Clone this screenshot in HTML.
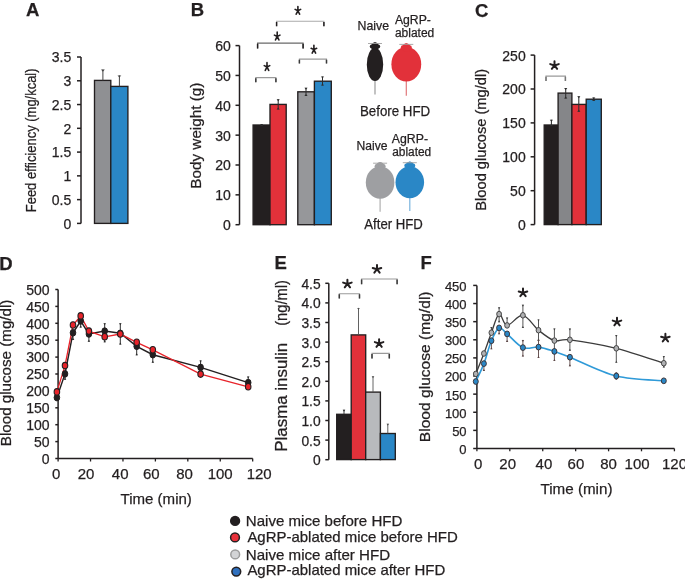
<!DOCTYPE html><html><head><meta charset="utf-8"><style>html,body{margin:0;padding:0;background:#fff;width:685px;height:579px;overflow:hidden}svg{display:block;filter:blur(0.35px)}text{stroke:#231f20;stroke-width:0.25px}</style></head><body><svg width="685" height="579" viewBox="0 0 685 579" font-family='"Liberation Sans", sans-serif'>
<rect width="685" height="579" fill="#ffffff"/>
<text x="26.0" y="16.3" font-size="18.5" text-anchor="start" font-weight="bold" fill="#231f20">A</text>
<line x1="81" y1="223.4" x2="81" y2="57.01000000000002" stroke="#231f20" stroke-width="1.5"/>
<line x1="77" y1="223.4" x2="81" y2="223.4" stroke="#231f20" stroke-width="1.5"/>
<text x="71.3" y="228.8" font-size="14" text-anchor="end" font-weight="normal" fill="#231f20">0</text>
<line x1="77" y1="199.63" x2="81" y2="199.63" stroke="#231f20" stroke-width="1.5"/>
<text x="71.3" y="205.03" font-size="14" text-anchor="end" font-weight="normal" fill="#231f20">0.5</text>
<line x1="77" y1="175.86" x2="81" y2="175.86" stroke="#231f20" stroke-width="1.5"/>
<text x="71.3" y="181.26" font-size="14" text-anchor="end" font-weight="normal" fill="#231f20">1</text>
<line x1="77" y1="152.09" x2="81" y2="152.09" stroke="#231f20" stroke-width="1.5"/>
<text x="71.3" y="157.49" font-size="14" text-anchor="end" font-weight="normal" fill="#231f20">1.5</text>
<line x1="77" y1="128.32" x2="81" y2="128.32" stroke="#231f20" stroke-width="1.5"/>
<text x="71.3" y="133.72" font-size="14" text-anchor="end" font-weight="normal" fill="#231f20">2</text>
<line x1="77" y1="104.55000000000001" x2="81" y2="104.55000000000001" stroke="#231f20" stroke-width="1.5"/>
<text x="71.3" y="109.95" font-size="14" text-anchor="end" font-weight="normal" fill="#231f20">2.5</text>
<line x1="77" y1="80.78" x2="81" y2="80.78" stroke="#231f20" stroke-width="1.5"/>
<text x="71.3" y="86.18" font-size="14" text-anchor="end" font-weight="normal" fill="#231f20">3</text>
<line x1="77" y1="57.01000000000002" x2="81" y2="57.01000000000002" stroke="#231f20" stroke-width="1.5"/>
<text x="71.3" y="62.41" font-size="14" text-anchor="end" font-weight="normal" fill="#231f20">3.5</text>
<text transform="translate(36.1,212.24) rotate(-90)" x="0" y="0" font-size="14.5" fill="#231f20" textLength="143.8" lengthAdjust="spacingAndGlyphs">Feed efficiency (mg/kcal)</text>
<rect x="94.5" y="80.4" width="16.299999999999997" height="143.0" fill="#8f9093" stroke="#231f20" stroke-width="1.35"/>
<rect x="110.8" y="86.4" width="17.10000000000001" height="137.0" fill="#2a87c6" stroke="#231f20" stroke-width="1.35"/>
<line x1="102.9" y1="69.6" x2="102.9" y2="80.4" stroke="#444" stroke-width="1.0"/>
<path d="M101.00,69.60 H104.80 L102.90,71.70 Z" fill="#444"/>
<line x1="119.4" y1="75.4" x2="119.4" y2="86.4" stroke="#444" stroke-width="1.0"/>
<path d="M117.50,75.40 H121.30 L119.40,77.50 Z" fill="#444"/>
<text x="190.8" y="16.3" font-size="18.5" text-anchor="start" font-weight="bold" fill="#231f20">B</text>
<line x1="239.5" y1="224.7" x2="239.5" y2="45.599999999999966" stroke="#231f20" stroke-width="1.5"/>
<line x1="235.5" y1="224.7" x2="239.5" y2="224.7" stroke="#231f20" stroke-width="1.5"/>
<text x="230.8" y="230.1" font-size="14" text-anchor="end" font-weight="normal" fill="#231f20">0</text>
<line x1="235.5" y1="194.85" x2="239.5" y2="194.85" stroke="#231f20" stroke-width="1.5"/>
<text x="230.8" y="200.25" font-size="14" text-anchor="end" font-weight="normal" fill="#231f20">10</text>
<line x1="235.5" y1="165.0" x2="239.5" y2="165.0" stroke="#231f20" stroke-width="1.5"/>
<text x="230.8" y="170.4" font-size="14" text-anchor="end" font-weight="normal" fill="#231f20">20</text>
<line x1="235.5" y1="135.14999999999998" x2="239.5" y2="135.14999999999998" stroke="#231f20" stroke-width="1.5"/>
<text x="230.8" y="140.55" font-size="14" text-anchor="end" font-weight="normal" fill="#231f20">30</text>
<line x1="235.5" y1="105.29999999999998" x2="239.5" y2="105.29999999999998" stroke="#231f20" stroke-width="1.5"/>
<text x="230.8" y="110.7" font-size="14" text-anchor="end" font-weight="normal" fill="#231f20">40</text>
<line x1="235.5" y1="75.44999999999999" x2="239.5" y2="75.44999999999999" stroke="#231f20" stroke-width="1.5"/>
<text x="230.8" y="80.85" font-size="14" text-anchor="end" font-weight="normal" fill="#231f20">50</text>
<line x1="235.5" y1="45.599999999999966" x2="239.5" y2="45.599999999999966" stroke="#231f20" stroke-width="1.5"/>
<text x="230.8" y="51.0" font-size="14" text-anchor="end" font-weight="normal" fill="#231f20">60</text>
<text transform="translate(200.95,188.7) rotate(-90)" x="0" y="0" font-size="15" fill="#231f20" textLength="106.1" lengthAdjust="spacingAndGlyphs">Body weight (g)</text>
<rect x="253.1" y="125.0" width="16.900000000000006" height="99.69999999999999" fill="#231f20" stroke="#231f20" stroke-width="1.35"/>
<rect x="270.0" y="104.4" width="16.19999999999999" height="120.29999999999998" fill="#e2313a" stroke="#231f20" stroke-width="1.35"/>
<rect x="297.8" y="91.8" width="16.599999999999966" height="132.89999999999998" fill="#96979a" stroke="#231f20" stroke-width="1.35"/>
<rect x="314.4" y="81.2" width="16.900000000000034" height="143.5" fill="#2a87c6" stroke="#231f20" stroke-width="1.35"/>
<line x1="261.6" y1="123.9" x2="261.6" y2="125.9" stroke="#2e2e2e" stroke-width="1.05"/>
<path d="M260.10,123.90 H263.10 L261.60,125.90 Z" fill="#2e2e2e"/>
<path d="M260.10,125.90 H263.10 L261.60,123.90 Z" fill="#2e2e2e"/>
<line x1="278.2" y1="99.2" x2="278.2" y2="109.5" stroke="#2e2e2e" stroke-width="1.05"/>
<path d="M276.60,99.20 H279.80 L278.20,101.20 Z" fill="#2e2e2e"/>
<path d="M276.60,109.50 H279.80 L278.20,107.50 Z" fill="#2e2e2e"/>
<line x1="306.0" y1="87.8" x2="306.0" y2="96.0" stroke="#2e2e2e" stroke-width="1.05"/>
<path d="M304.40,87.80 H307.60 L306.00,89.80 Z" fill="#2e2e2e"/>
<path d="M304.40,96.00 H307.60 L306.00,94.00 Z" fill="#2e2e2e"/>
<line x1="322.5" y1="76.6" x2="322.5" y2="85.5" stroke="#2e2e2e" stroke-width="1.05"/>
<path d="M320.90,76.60 H324.10 L322.50,78.60 Z" fill="#2e2e2e"/>
<path d="M320.90,85.50 H324.10 L322.50,83.50 Z" fill="#2e2e2e"/>
<path d="M255.8,82.19999999999999 V77.6 H275.9 V82.19999999999999" fill="none" stroke="#9a9a9a" stroke-width="1.1"/>
<path d="M255.8,82.19999999999999 V78.19999999999999 M275.9,82.19999999999999 V78.19999999999999" fill="none" stroke="#3a3a3a" stroke-width="1.5"/>
<path d="M267.00,66.93 L267.00,62.63 M267.00,66.93 L269.75,65.60 M267.00,66.93 L268.71,70.41 M267.00,66.93 L265.29,70.41 M267.00,66.93 L264.25,65.60 " fill="none" stroke="#231f20" stroke-width="1.6" stroke-linecap="round"/>
<path d="M257.6,48.4 V43.1 H303.1 V48.4" fill="none" stroke="#6a6a6a" stroke-width="1.1"/>
<path d="M257.6,48.4 V43.7 M303.1,48.4 V43.7" fill="none" stroke="#231f20" stroke-width="1.5"/>
<path d="M277.20,36.43 L277.20,32.13 M277.20,36.43 L279.95,35.10 M277.20,36.43 L278.91,39.91 M277.20,36.43 L275.49,39.91 M277.20,36.43 L274.44,35.10 " fill="none" stroke="#231f20" stroke-width="1.6" stroke-linecap="round"/>
<path d="M299.4,63.5 V59.1 H326.5 V63.5" fill="none" stroke="#9a9a9a" stroke-width="1.1"/>
<path d="M299.4,63.5 V59.7 M326.5,63.5 V59.7" fill="none" stroke="#3a3a3a" stroke-width="1.5"/>
<path d="M313.90,49.63 L313.90,45.33 M313.90,49.63 L316.65,48.30 M313.90,49.63 L315.61,53.11 M313.90,49.63 L312.19,53.11 M313.90,49.63 L311.14,48.30 " fill="none" stroke="#231f20" stroke-width="1.6" stroke-linecap="round"/>
<path d="M276.6,26.3 V21.3 H323.9 V26.3" fill="none" stroke="#ababab" stroke-width="1.1"/>
<path d="M276.6,26.3 V21.900000000000002 M323.9,26.3 V21.900000000000002" fill="none" stroke="#231f20" stroke-width="1.5"/>
<path d="M297.90,10.73 L297.90,6.43 M297.90,10.73 L300.65,9.40 M297.90,10.73 L299.61,14.21 M297.90,10.73 L296.19,14.21 M297.90,10.73 L295.14,9.40 " fill="none" stroke="#231f20" stroke-width="1.6" stroke-linecap="round"/>
<line x1="375.0" y1="79.0" x2="375.0" y2="94.5" stroke="#9a9a9a" stroke-width="1.2"/>
<ellipse cx="375.0" cy="64.4" rx="8.2" ry="16.6" fill="#231f20"/>
<ellipse cx="375.0" cy="46.8" rx="3.7" ry="4.2" fill="#231f20"/>
<circle cx="371.90000000000003" cy="46.5" r="2.1" fill="#231f20"/>
<circle cx="378.09999999999997" cy="46.5" r="2.1" fill="#231f20"/>
<circle cx="375.0" cy="44.099999999999994" r="1.8" fill="#231f20"/>
<line x1="368.0" y1="43.5" x2="382.0" y2="43.5" stroke="#a0a0a0" stroke-width="0.9"/>
<line x1="406.3" y1="79.5" x2="406.3" y2="95.7" stroke="#e0787b" stroke-width="1.2"/>
<ellipse cx="406.3" cy="64.2" rx="14.9" ry="17.3" fill="#e2313a"/>
<ellipse cx="406.3" cy="47.7" rx="4.0" ry="4.2" fill="#e2313a"/>
<circle cx="402.90000000000003" cy="47.400000000000006" r="2.1" fill="#e2313a"/>
<circle cx="409.7" cy="47.400000000000006" r="2.1" fill="#e2313a"/>
<circle cx="406.3" cy="45.0" r="1.8" fill="#e2313a"/>
<line x1="399.3" y1="44.400000000000006" x2="413.3" y2="44.400000000000006" stroke="#a0a0a0" stroke-width="0.9"/>
<line x1="380.1" y1="196.8" x2="380.1" y2="211.7" stroke="#b0b0b0" stroke-width="1.2"/>
<ellipse cx="380.1" cy="182.5" rx="14.3" ry="16.30000000000001" fill="#9e9fa2"/>
<ellipse cx="380.1" cy="166.5" rx="4.0" ry="4.2" fill="#9e9fa2"/>
<circle cx="376.70000000000005" cy="166.2" r="2.1" fill="#9e9fa2"/>
<circle cx="383.5" cy="166.2" r="2.1" fill="#9e9fa2"/>
<circle cx="380.1" cy="163.8" r="1.8" fill="#9e9fa2"/>
<line x1="373.1" y1="163.2" x2="387.1" y2="163.2" stroke="#a0a0a0" stroke-width="0.9"/>
<line x1="409.8" y1="196.2" x2="409.8" y2="211.1" stroke="#79b3de" stroke-width="1.2"/>
<ellipse cx="409.8" cy="182.2" rx="14.3" ry="16.0" fill="#2a87c6"/>
<ellipse cx="409.8" cy="166.0" rx="4.0" ry="4.2" fill="#2a87c6"/>
<circle cx="406.40000000000003" cy="165.7" r="2.1" fill="#2a87c6"/>
<circle cx="413.2" cy="165.7" r="2.1" fill="#2a87c6"/>
<circle cx="409.8" cy="163.3" r="1.8" fill="#2a87c6"/>
<line x1="402.8" y1="162.7" x2="416.8" y2="162.7" stroke="#a0a0a0" stroke-width="0.9"/>
<text x="357.6" y="30.0" font-size="12.8" text-anchor="start" font-weight="normal" fill="#231f20" textLength="31.5" lengthAdjust="spacingAndGlyphs">Naive</text>
<text x="394.9" y="23.7" font-size="12.5" text-anchor="start" font-weight="normal" fill="#231f20" textLength="36.0" lengthAdjust="spacingAndGlyphs">AgRP-</text>
<text x="394.9" y="36.6" font-size="12.5" text-anchor="start" font-weight="normal" fill="#231f20" textLength="39.4" lengthAdjust="spacingAndGlyphs">ablated</text>
<text x="359.9" y="115.6" font-size="14" text-anchor="start" font-weight="normal" fill="#231f20" textLength="70.3" lengthAdjust="spacingAndGlyphs">Before HFD</text>
<text x="356.6" y="150.0" font-size="12.5" text-anchor="start" font-weight="normal" fill="#231f20" textLength="31.0" lengthAdjust="spacingAndGlyphs">Naive</text>
<text x="391.8" y="142.8" font-size="12.3" text-anchor="start" font-weight="normal" fill="#231f20" textLength="36.2" lengthAdjust="spacingAndGlyphs">AgRP-</text>
<text x="392.2" y="156.3" font-size="12.3" text-anchor="start" font-weight="normal" fill="#231f20" textLength="39.0" lengthAdjust="spacingAndGlyphs">ablated</text>
<text x="364.3" y="228.7" font-size="14" text-anchor="start" font-weight="normal" fill="#231f20" textLength="58.5" lengthAdjust="spacingAndGlyphs">After HFD</text>
<text x="475.0" y="17.0" font-size="18.5" text-anchor="start" font-weight="bold" fill="#231f20">C</text>
<line x1="534.6" y1="224.6" x2="534.6" y2="55.099999999999994" stroke="#231f20" stroke-width="1.5"/>
<line x1="530.6" y1="224.6" x2="534.6" y2="224.6" stroke="#231f20" stroke-width="1.5"/>
<text x="525.7" y="230.0" font-size="14" text-anchor="end" font-weight="normal" fill="#231f20">0</text>
<line x1="530.6" y1="190.7" x2="534.6" y2="190.7" stroke="#231f20" stroke-width="1.5"/>
<text x="525.7" y="196.1" font-size="14" text-anchor="end" font-weight="normal" fill="#231f20">50</text>
<line x1="530.6" y1="156.8" x2="534.6" y2="156.8" stroke="#231f20" stroke-width="1.5"/>
<text x="525.7" y="162.2" font-size="14" text-anchor="end" font-weight="normal" fill="#231f20">100</text>
<line x1="530.6" y1="122.9" x2="534.6" y2="122.9" stroke="#231f20" stroke-width="1.5"/>
<text x="525.7" y="128.3" font-size="14" text-anchor="end" font-weight="normal" fill="#231f20">150</text>
<line x1="530.6" y1="89.0" x2="534.6" y2="89.0" stroke="#231f20" stroke-width="1.5"/>
<text x="525.7" y="94.4" font-size="14" text-anchor="end" font-weight="normal" fill="#231f20">200</text>
<line x1="530.6" y1="55.099999999999994" x2="534.6" y2="55.099999999999994" stroke="#231f20" stroke-width="1.5"/>
<text x="525.7" y="60.5" font-size="14" text-anchor="end" font-weight="normal" fill="#231f20">250</text>
<text transform="translate(485.7,210.7) rotate(-90)" x="0" y="0" font-size="14.5" fill="#231f20" textLength="141.8" lengthAdjust="spacingAndGlyphs">Blood glucose (mg/dl)</text>
<rect x="544.2" y="125.0" width="13.899999999999977" height="99.6" fill="#231f20" stroke="#231f20" stroke-width="1.35"/>
<rect x="558.1" y="93.1" width="13.799999999999955" height="131.5" fill="#858689" stroke="#231f20" stroke-width="1.35"/>
<rect x="571.9" y="104.4" width="14.300000000000068" height="120.19999999999999" fill="#e2313a" stroke="#231f20" stroke-width="1.35"/>
<rect x="586.2" y="99.2" width="15.099999999999909" height="125.39999999999999" fill="#2a87c6" stroke="#231f20" stroke-width="1.35"/>
<line x1="551.4" y1="119.8" x2="551.4" y2="126" stroke="#2e2e2e" stroke-width="1.05"/>
<path d="M549.80,119.80 H553.00 L551.40,121.80 Z" fill="#2e2e2e"/>
<path d="M549.80,126.00 H553.00 L551.40,124.00 Z" fill="#2e2e2e"/>
<line x1="565.7" y1="88.0" x2="565.7" y2="98.6" stroke="#2e2e2e" stroke-width="1.05"/>
<path d="M564.10,88.00 H567.30 L565.70,90.00 Z" fill="#2e2e2e"/>
<path d="M564.10,98.60 H567.30 L565.70,96.60 Z" fill="#2e2e2e"/>
<line x1="578.8" y1="96.2" x2="578.8" y2="111.8" stroke="#2e2e2e" stroke-width="1.05"/>
<path d="M577.20,96.20 H580.40 L578.80,98.20 Z" fill="#2e2e2e"/>
<path d="M577.20,111.80 H580.40 L578.80,109.80 Z" fill="#2e2e2e"/>
<line x1="593.7" y1="97.4" x2="593.7" y2="101.0" stroke="#2e2e2e" stroke-width="1.05"/>
<path d="M592.10,97.40 H595.30 L593.70,99.40 Z" fill="#2e2e2e"/>
<path d="M592.10,101.00 H595.30 L593.70,99.00 Z" fill="#2e2e2e"/>
<path d="M546.0,81.0 V76.1 H565.4 V81.0" fill="none" stroke="#9a9a9a" stroke-width="1.1"/>
<path d="M546.0,81.0 V76.69999999999999 M565.4,81.0 V76.69999999999999" fill="none" stroke="#777" stroke-width="1.5"/>
<path d="M554.50,65.42 L554.50,61.22 M554.50,65.42 L558.77,64.12 M554.50,65.42 L557.15,68.82 M554.50,65.42 L551.85,68.82 M554.50,65.42 L550.23,64.12 " fill="none" stroke="#231f20" stroke-width="2.0" stroke-linecap="round"/>
<text x="-0.7" y="269.8" font-size="18.5" text-anchor="start" font-weight="bold" fill="#231f20">D</text>
<line x1="58.1" y1="458.5" x2="58.1" y2="289.5" stroke="#231f20" stroke-width="1.5"/>
<line x1="55.300000000000004" y1="458.5" x2="58.1" y2="458.5" stroke="#231f20" stroke-width="1.5"/>
<text x="49.6" y="463.7" font-size="14" text-anchor="end" font-weight="normal" fill="#231f20">0</text>
<line x1="55.300000000000004" y1="441.6" x2="58.1" y2="441.6" stroke="#231f20" stroke-width="1.5"/>
<text x="49.6" y="446.8" font-size="14" text-anchor="end" font-weight="normal" fill="#231f20">50</text>
<line x1="55.300000000000004" y1="424.7" x2="58.1" y2="424.7" stroke="#231f20" stroke-width="1.5"/>
<text x="49.6" y="429.9" font-size="14" text-anchor="end" font-weight="normal" fill="#231f20">100</text>
<line x1="55.300000000000004" y1="407.8" x2="58.1" y2="407.8" stroke="#231f20" stroke-width="1.5"/>
<text x="49.6" y="413.0" font-size="14" text-anchor="end" font-weight="normal" fill="#231f20">150</text>
<line x1="55.300000000000004" y1="390.9" x2="58.1" y2="390.9" stroke="#231f20" stroke-width="1.5"/>
<text x="49.6" y="396.1" font-size="14" text-anchor="end" font-weight="normal" fill="#231f20">200</text>
<line x1="55.300000000000004" y1="374.0" x2="58.1" y2="374.0" stroke="#231f20" stroke-width="1.5"/>
<text x="49.6" y="379.2" font-size="14" text-anchor="end" font-weight="normal" fill="#231f20">250</text>
<line x1="55.300000000000004" y1="357.1" x2="58.1" y2="357.1" stroke="#231f20" stroke-width="1.5"/>
<text x="49.6" y="362.3" font-size="14" text-anchor="end" font-weight="normal" fill="#231f20">300</text>
<line x1="55.300000000000004" y1="340.20000000000005" x2="58.1" y2="340.20000000000005" stroke="#231f20" stroke-width="1.5"/>
<text x="49.6" y="345.4" font-size="14" text-anchor="end" font-weight="normal" fill="#231f20">350</text>
<line x1="55.300000000000004" y1="323.3" x2="58.1" y2="323.3" stroke="#231f20" stroke-width="1.5"/>
<text x="49.6" y="328.5" font-size="14" text-anchor="end" font-weight="normal" fill="#231f20">400</text>
<line x1="55.300000000000004" y1="306.4" x2="58.1" y2="306.4" stroke="#231f20" stroke-width="1.5"/>
<text x="49.6" y="311.6" font-size="14" text-anchor="end" font-weight="normal" fill="#231f20">450</text>
<line x1="55.300000000000004" y1="289.5" x2="58.1" y2="289.5" stroke="#231f20" stroke-width="1.5"/>
<text x="49.6" y="294.7" font-size="14" text-anchor="end" font-weight="normal" fill="#231f20">500</text>
<line x1="58.1" y1="458.5" x2="252.7" y2="458.5" stroke="#231f20" stroke-width="1.3"/>
<line x1="58.1" y1="458.5" x2="58.1" y2="461.5" stroke="#231f20" stroke-width="1.3"/>
<line x1="90.53" y1="458.5" x2="90.53" y2="461.5" stroke="#231f20" stroke-width="1.3"/>
<line x1="122.96000000000001" y1="458.5" x2="122.96000000000001" y2="461.5" stroke="#231f20" stroke-width="1.3"/>
<line x1="155.39" y1="458.5" x2="155.39" y2="461.5" stroke="#231f20" stroke-width="1.3"/>
<line x1="187.82" y1="458.5" x2="187.82" y2="461.5" stroke="#231f20" stroke-width="1.3"/>
<line x1="220.25" y1="458.5" x2="220.25" y2="461.5" stroke="#231f20" stroke-width="1.3"/>
<line x1="252.67999999999998" y1="458.5" x2="252.67999999999998" y2="461.5" stroke="#231f20" stroke-width="1.3"/>
<text x="56.1" y="478.9" font-size="15" text-anchor="middle" font-weight="normal" fill="#231f20">0</text>
<text x="86.05" y="478.9" font-size="15" text-anchor="middle" font-weight="normal" fill="#231f20">20</text>
<text x="120.2" y="478.9" font-size="15" text-anchor="middle" font-weight="normal" fill="#231f20">40</text>
<text x="151.3" y="478.9" font-size="15" text-anchor="middle" font-weight="normal" fill="#231f20">60</text>
<text x="184.6" y="478.9" font-size="15" text-anchor="middle" font-weight="normal" fill="#231f20">80</text>
<text x="220.2" y="478.9" font-size="15" text-anchor="middle" font-weight="normal" fill="#231f20">100</text>
<text x="259.2" y="478.9" font-size="15" text-anchor="middle" font-weight="normal" fill="#231f20">120</text>
<text x="120.5" y="503.8" font-size="15.5" text-anchor="start" font-weight="normal" fill="#231f20" textLength="71.4" lengthAdjust="spacingAndGlyphs">Time (min)</text>
<text transform="translate(11.25,446.2) rotate(-90)" x="0" y="0" font-size="15" fill="#231f20" textLength="146.6" lengthAdjust="spacingAndGlyphs">Blood glucose (mg/dl)</text>
<line x1="65" y1="379.8" x2="65" y2="373.9" stroke="#2e2e2e" stroke-width="1.0"/>
<path d="M63.70,379.80 H66.30 L65.00,377.80 Z" fill="#2e2e2e"/>
<line x1="73" y1="340" x2="73" y2="332.8" stroke="#2e2e2e" stroke-width="1.0"/>
<path d="M71.70,340.00 H74.30 L73.00,338.00 Z" fill="#2e2e2e"/>
<line x1="80.7" y1="327.6" x2="80.7" y2="321" stroke="#2e2e2e" stroke-width="1.0"/>
<path d="M79.40,327.60 H82.00 L80.70,325.60 Z" fill="#2e2e2e"/>
<line x1="88.9" y1="341.8" x2="88.9" y2="334" stroke="#2e2e2e" stroke-width="1.0"/>
<path d="M87.60,341.80 H90.20 L88.90,339.80 Z" fill="#2e2e2e"/>
<line x1="104.7" y1="323.3" x2="104.7" y2="331.1" stroke="#2e2e2e" stroke-width="1.0"/>
<path d="M103.40,323.30 H106.00 L104.70,325.30 Z" fill="#2e2e2e"/>
<line x1="104.7" y1="342.3" x2="104.7" y2="331.1" stroke="#2e2e2e" stroke-width="1.0"/>
<path d="M103.40,342.30 H106.00 L104.70,340.30 Z" fill="#2e2e2e"/>
<line x1="120.3" y1="323.3" x2="120.3" y2="333.3" stroke="#2e2e2e" stroke-width="1.0"/>
<path d="M119.00,323.30 H121.60 L120.30,325.30 Z" fill="#2e2e2e"/>
<line x1="120.3" y1="344.6" x2="120.3" y2="333.3" stroke="#2e2e2e" stroke-width="1.0"/>
<path d="M119.00,344.60 H121.60 L120.30,342.60 Z" fill="#2e2e2e"/>
<line x1="136.7" y1="355.3" x2="136.7" y2="346.3" stroke="#2e2e2e" stroke-width="1.0"/>
<path d="M135.40,355.30 H138.00 L136.70,353.30 Z" fill="#2e2e2e"/>
<line x1="152.8" y1="362.7" x2="152.8" y2="354.7" stroke="#2e2e2e" stroke-width="1.0"/>
<path d="M151.50,362.70 H154.10 L152.80,360.70 Z" fill="#2e2e2e"/>
<line x1="200.6" y1="360.4" x2="200.6" y2="367.4" stroke="#2e2e2e" stroke-width="1.0"/>
<path d="M199.30,360.40 H201.90 L200.60,362.40 Z" fill="#2e2e2e"/>
<line x1="248.2" y1="376.6" x2="248.2" y2="382.6" stroke="#2e2e2e" stroke-width="1.0"/>
<path d="M246.90,376.60 H249.50 L248.20,378.60 Z" fill="#2e2e2e"/>
<polyline points="56.9,397.6 65,373.9 73,332.8 80.7,321 88.9,334 104.7,331.1 120.3,333.3 136.7,346.3 152.8,354.7 200.6,367.4 248.2,382.6" fill="none" stroke="#231f20" stroke-width="1.45"/>
<polyline points="56.9,391.9 65,365.6 73,325 80.7,315.9 88.9,331.1 104.7,336.8 120.3,334 136.7,342.3 152.8,349.8 200.6,374.1 248.2,386.8" fill="none" stroke="#e8232a" stroke-width="1.3"/>
<ellipse cx="56.9" cy="397.6" rx="2.8" ry="3.3" fill="#231f20" stroke="#231f20" stroke-width="1.0"/>
<ellipse cx="65" cy="373.9" rx="2.8" ry="3.3" fill="#231f20" stroke="#231f20" stroke-width="1.0"/>
<ellipse cx="73" cy="332.8" rx="2.8" ry="3.3" fill="#231f20" stroke="#231f20" stroke-width="1.0"/>
<ellipse cx="80.7" cy="321" rx="2.8" ry="3.3" fill="#231f20" stroke="#231f20" stroke-width="1.0"/>
<ellipse cx="88.9" cy="334" rx="2.8" ry="3.3" fill="#231f20" stroke="#231f20" stroke-width="1.0"/>
<ellipse cx="104.7" cy="331.1" rx="2.8" ry="3.3" fill="#231f20" stroke="#231f20" stroke-width="1.0"/>
<ellipse cx="120.3" cy="333.3" rx="2.8" ry="3.3" fill="#231f20" stroke="#231f20" stroke-width="1.0"/>
<ellipse cx="136.7" cy="346.3" rx="2.8" ry="3.3" fill="#231f20" stroke="#231f20" stroke-width="1.0"/>
<ellipse cx="152.8" cy="354.7" rx="2.8" ry="3.3" fill="#231f20" stroke="#231f20" stroke-width="1.0"/>
<ellipse cx="200.6" cy="367.4" rx="2.8" ry="3.3" fill="#231f20" stroke="#231f20" stroke-width="1.0"/>
<ellipse cx="248.2" cy="382.6" rx="2.8" ry="3.3" fill="#231f20" stroke="#231f20" stroke-width="1.0"/>
<ellipse cx="56.9" cy="391.9" rx="2.75" ry="3.25" fill="#e8232a" stroke="#231f20" stroke-width="1.1"/>
<ellipse cx="65" cy="365.6" rx="2.75" ry="3.25" fill="#e8232a" stroke="#231f20" stroke-width="1.1"/>
<ellipse cx="73" cy="325" rx="2.75" ry="3.25" fill="#e8232a" stroke="#231f20" stroke-width="1.1"/>
<ellipse cx="80.7" cy="315.9" rx="2.75" ry="3.25" fill="#e8232a" stroke="#231f20" stroke-width="1.1"/>
<ellipse cx="88.9" cy="331.1" rx="2.75" ry="3.25" fill="#e8232a" stroke="#231f20" stroke-width="1.1"/>
<ellipse cx="104.7" cy="336.8" rx="2.75" ry="3.25" fill="#e8232a" stroke="#231f20" stroke-width="1.1"/>
<ellipse cx="120.3" cy="334" rx="2.75" ry="3.25" fill="#e8232a" stroke="#231f20" stroke-width="1.1"/>
<ellipse cx="136.7" cy="342.3" rx="2.75" ry="3.25" fill="#e8232a" stroke="#231f20" stroke-width="1.1"/>
<ellipse cx="152.8" cy="349.8" rx="2.75" ry="3.25" fill="#e8232a" stroke="#231f20" stroke-width="1.1"/>
<ellipse cx="200.6" cy="374.1" rx="2.75" ry="3.25" fill="#e8232a" stroke="#231f20" stroke-width="1.1"/>
<ellipse cx="248.2" cy="386.8" rx="2.75" ry="3.25" fill="#e8232a" stroke="#231f20" stroke-width="1.1"/>
<text x="274.5" y="269.1" font-size="18.5" text-anchor="start" font-weight="bold" fill="#231f20">E</text>
<line x1="328.8" y1="459.7" x2="328.8" y2="283.29999999999995" stroke="#231f20" stroke-width="1.5"/>
<line x1="325.3" y1="459.7" x2="328.8" y2="459.7" stroke="#231f20" stroke-width="1.5"/>
<text x="320.6" y="465.1" font-size="13.8" text-anchor="end" font-weight="normal" fill="#231f20">0</text>
<line x1="325.3" y1="440.09999999999997" x2="328.8" y2="440.09999999999997" stroke="#231f20" stroke-width="1.5"/>
<text x="320.6" y="445.5" font-size="13.8" text-anchor="end" font-weight="normal" fill="#231f20">0.5</text>
<line x1="325.3" y1="420.5" x2="328.8" y2="420.5" stroke="#231f20" stroke-width="1.5"/>
<text x="320.6" y="425.9" font-size="13.8" text-anchor="end" font-weight="normal" fill="#231f20">1.0</text>
<line x1="325.3" y1="400.9" x2="328.8" y2="400.9" stroke="#231f20" stroke-width="1.5"/>
<text x="320.6" y="406.3" font-size="13.8" text-anchor="end" font-weight="normal" fill="#231f20">1.5</text>
<line x1="325.3" y1="381.29999999999995" x2="328.8" y2="381.29999999999995" stroke="#231f20" stroke-width="1.5"/>
<text x="320.6" y="386.7" font-size="13.8" text-anchor="end" font-weight="normal" fill="#231f20">2.0</text>
<line x1="325.3" y1="361.7" x2="328.8" y2="361.7" stroke="#231f20" stroke-width="1.5"/>
<text x="320.6" y="367.1" font-size="13.8" text-anchor="end" font-weight="normal" fill="#231f20">2.5</text>
<line x1="325.3" y1="342.09999999999997" x2="328.8" y2="342.09999999999997" stroke="#231f20" stroke-width="1.5"/>
<text x="320.6" y="347.5" font-size="13.8" text-anchor="end" font-weight="normal" fill="#231f20">3.0</text>
<line x1="325.3" y1="322.5" x2="328.8" y2="322.5" stroke="#231f20" stroke-width="1.5"/>
<text x="320.6" y="327.9" font-size="13.8" text-anchor="end" font-weight="normal" fill="#231f20">3.5</text>
<line x1="325.3" y1="302.9" x2="328.8" y2="302.9" stroke="#231f20" stroke-width="1.5"/>
<text x="320.6" y="308.3" font-size="13.8" text-anchor="end" font-weight="normal" fill="#231f20">4.0</text>
<line x1="325.3" y1="283.29999999999995" x2="328.8" y2="283.29999999999995" stroke="#231f20" stroke-width="1.5"/>
<text x="320.6" y="288.7" font-size="13.8" text-anchor="end" font-weight="normal" fill="#231f20">4.5</text>
<text transform="translate(286.8,451.75) rotate(-90)" font-size="16" fill="#231f20"><tspan x="0" y="0" textLength="109" lengthAdjust="spacingAndGlyphs">Plasma insulin</tspan><tspan x="125.95" y="0" textLength="45.8" lengthAdjust="spacingAndGlyphs">(ng/ml)</tspan></text>
<rect x="336.7" y="414.3" width="14.5" height="45.30000000000001" fill="#231f20" stroke="#231f20" stroke-width="1.35"/>
<rect x="351.2" y="334.9" width="14.5" height="124.70000000000005" fill="#e2313a" stroke="#231f20" stroke-width="1.35"/>
<rect x="365.7" y="392.1" width="14.699999999999989" height="67.5" fill="#b8babd" stroke="#231f20" stroke-width="1.35"/>
<rect x="380.4" y="433.5" width="14.900000000000034" height="26.100000000000023" fill="#2a87c6" stroke="#231f20" stroke-width="1.35"/>
<line x1="344.0" y1="409.7" x2="344.0" y2="414.3" stroke="#2e2e2e" stroke-width="0.9"/>
<path d="M342.70,409.70 H345.30 L344.00,411.70 Z" fill="#2e2e2e"/>
<line x1="358.5" y1="307.9" x2="358.5" y2="334.9" stroke="#505050" stroke-width="0.9"/>
<path d="M357.20,307.90 H359.80 L358.50,309.90 Z" fill="#505050"/>
<line x1="373.0" y1="376.2" x2="373.0" y2="392.1" stroke="#555555" stroke-width="0.9"/>
<path d="M371.70,376.20 H374.30 L373.00,378.20 Z" fill="#555555"/>
<line x1="387.8" y1="423.8" x2="387.8" y2="433.5" stroke="#505050" stroke-width="0.9"/>
<path d="M386.50,423.80 H389.10 L387.80,425.80 Z" fill="#505050"/>
<path d="M339.3,298.4 V293.7 H359.5 V298.4" fill="none" stroke="#9a9a9a" stroke-width="1.1"/>
<path d="M339.3,298.4 V294.3 M359.5,298.4 V294.3" fill="none" stroke="#3a3a3a" stroke-width="1.5"/>
<path d="M347.40,283.92 L347.40,279.72 M347.40,283.92 L351.67,282.62 M347.40,283.92 L350.05,287.32 M347.40,283.92 L344.75,287.32 M347.40,283.92 L343.12,282.62 " fill="none" stroke="#231f20" stroke-width="2.0" stroke-linecap="round"/>
<path d="M361.6,284.2 V279.0 H397.1 V284.2" fill="none" stroke="#9a9a9a" stroke-width="1.1"/>
<path d="M361.6,284.2 V279.6 M397.1,284.2 V279.6" fill="none" stroke="#3a3a3a" stroke-width="1.5"/>
<path d="M377.00,269.22 L377.00,265.02 M377.00,269.22 L381.27,267.92 M377.00,269.22 L379.65,272.62 M377.00,269.22 L374.35,272.62 M377.00,269.22 L372.73,267.92 " fill="none" stroke="#231f20" stroke-width="2.0" stroke-linecap="round"/>
<path d="M372.0,358.59999999999997 V353.4 H389.3 V358.59999999999997" fill="none" stroke="#9a9a9a" stroke-width="1.1"/>
<path d="M372.0,358.59999999999997 V354.0 M389.3,358.59999999999997 V354.0" fill="none" stroke="#3a3a3a" stroke-width="1.5"/>
<path d="M379.10,343.42 L379.10,339.22 M379.10,343.42 L383.38,342.12 M379.10,343.42 L381.75,346.82 M379.10,343.42 L376.45,346.82 M379.10,343.42 L374.83,342.12 " fill="none" stroke="#231f20" stroke-width="2.0" stroke-linecap="round"/>
<text x="420.5" y="269.3" font-size="18.5" text-anchor="start" font-weight="bold" fill="#231f20">F</text>
<line x1="476.9" y1="448.5" x2="476.9" y2="285.41999999999996" stroke="#231f20" stroke-width="1.5"/>
<line x1="473.2" y1="448.5" x2="476.9" y2="448.5" stroke="#231f20" stroke-width="1.5"/>
<text x="466.6" y="453.9" font-size="13" text-anchor="end" font-weight="normal" fill="#231f20">0</text>
<line x1="473.2" y1="430.38" x2="476.9" y2="430.38" stroke="#231f20" stroke-width="1.5"/>
<text x="466.6" y="435.78" font-size="13" text-anchor="end" font-weight="normal" fill="#231f20">50</text>
<line x1="473.2" y1="412.26" x2="476.9" y2="412.26" stroke="#231f20" stroke-width="1.5"/>
<text x="466.6" y="417.66" font-size="13" text-anchor="end" font-weight="normal" fill="#231f20">100</text>
<line x1="473.2" y1="394.14" x2="476.9" y2="394.14" stroke="#231f20" stroke-width="1.5"/>
<text x="466.6" y="399.54" font-size="13" text-anchor="end" font-weight="normal" fill="#231f20">150</text>
<line x1="473.2" y1="376.02" x2="476.9" y2="376.02" stroke="#231f20" stroke-width="1.5"/>
<text x="466.6" y="381.42" font-size="13" text-anchor="end" font-weight="normal" fill="#231f20">200</text>
<line x1="473.2" y1="357.9" x2="476.9" y2="357.9" stroke="#231f20" stroke-width="1.5"/>
<text x="466.6" y="363.3" font-size="13" text-anchor="end" font-weight="normal" fill="#231f20">250</text>
<line x1="473.2" y1="339.78" x2="476.9" y2="339.78" stroke="#231f20" stroke-width="1.5"/>
<text x="466.6" y="345.18" font-size="13" text-anchor="end" font-weight="normal" fill="#231f20">300</text>
<line x1="473.2" y1="321.65999999999997" x2="476.9" y2="321.65999999999997" stroke="#231f20" stroke-width="1.5"/>
<text x="466.6" y="327.06" font-size="13" text-anchor="end" font-weight="normal" fill="#231f20">350</text>
<line x1="473.2" y1="303.53999999999996" x2="476.9" y2="303.53999999999996" stroke="#231f20" stroke-width="1.5"/>
<text x="466.6" y="308.94" font-size="13" text-anchor="end" font-weight="normal" fill="#231f20">400</text>
<line x1="473.2" y1="285.41999999999996" x2="476.9" y2="285.41999999999996" stroke="#231f20" stroke-width="1.5"/>
<text x="466.6" y="290.82" font-size="13" text-anchor="end" font-weight="normal" fill="#231f20">450</text>
<line x1="476.9" y1="448.5" x2="674.4" y2="448.5" stroke="#231f20" stroke-width="1.3"/>
<line x1="476.9" y1="448.5" x2="476.9" y2="451.3" stroke="#231f20" stroke-width="1.3"/>
<line x1="509.82" y1="448.5" x2="509.82" y2="451.3" stroke="#231f20" stroke-width="1.3"/>
<line x1="542.74" y1="448.5" x2="542.74" y2="451.3" stroke="#231f20" stroke-width="1.3"/>
<line x1="575.66" y1="448.5" x2="575.66" y2="451.3" stroke="#231f20" stroke-width="1.3"/>
<line x1="608.5799999999999" y1="448.5" x2="608.5799999999999" y2="451.3" stroke="#231f20" stroke-width="1.3"/>
<line x1="641.5" y1="448.5" x2="641.5" y2="451.3" stroke="#231f20" stroke-width="1.3"/>
<line x1="674.42" y1="448.5" x2="674.42" y2="451.3" stroke="#231f20" stroke-width="1.3"/>
<text x="478.2" y="468.9" font-size="15" text-anchor="middle" font-weight="normal" fill="#231f20">0</text>
<text x="507.7" y="468.9" font-size="15" text-anchor="middle" font-weight="normal" fill="#231f20">20</text>
<text x="543.9" y="468.9" font-size="15" text-anchor="middle" font-weight="normal" fill="#231f20">40</text>
<text x="575.9" y="468.9" font-size="15" text-anchor="middle" font-weight="normal" fill="#231f20">60</text>
<text x="608.6" y="468.9" font-size="15" text-anchor="middle" font-weight="normal" fill="#231f20">80</text>
<text x="637.1" y="468.9" font-size="15" text-anchor="middle" font-weight="normal" fill="#231f20">100</text>
<text x="674.5" y="468.9" font-size="15" text-anchor="middle" font-weight="normal" fill="#231f20">120</text>
<text x="540.5" y="494.0" font-size="15.5" text-anchor="start" font-weight="normal" fill="#231f20" textLength="72" lengthAdjust="spacingAndGlyphs">Time (min)</text>
<text transform="translate(430.2,442.15) rotate(-90)" x="0" y="0" font-size="14.5" fill="#231f20" textLength="150.7" lengthAdjust="spacingAndGlyphs">Blood glucose (mg/dl)</text>
<line x1="522.9" y1="304.7" x2="522.9" y2="315.3" stroke="#444" stroke-width="0.9"/>
<path d="M521.70,304.70 H524.10 L522.90,306.70 Z" fill="#444"/>
<line x1="522.9" y1="328" x2="522.9" y2="315.3" stroke="#444" stroke-width="0.9"/>
<path d="M521.70,328.00 H524.10 L522.90,326.00 Z" fill="#444"/>
<line x1="538.5" y1="319.4" x2="538.5" y2="330.2" stroke="#444" stroke-width="0.9"/>
<path d="M537.30,319.40 H539.70 L538.50,321.40 Z" fill="#444"/>
<line x1="538.5" y1="341" x2="538.5" y2="330.2" stroke="#444" stroke-width="0.9"/>
<path d="M537.30,341.00 H539.70 L538.50,339.00 Z" fill="#444"/>
<line x1="554.4" y1="328.5" x2="554.4" y2="340.6" stroke="#444" stroke-width="0.9"/>
<path d="M553.20,328.50 H555.60 L554.40,330.50 Z" fill="#444"/>
<line x1="554.4" y1="353.1" x2="554.4" y2="340.6" stroke="#444" stroke-width="0.9"/>
<path d="M553.20,353.10 H555.60 L554.40,351.10 Z" fill="#444"/>
<line x1="569.9" y1="328.5" x2="569.9" y2="339.8" stroke="#444" stroke-width="0.9"/>
<path d="M568.70,328.50 H571.10 L569.90,330.50 Z" fill="#444"/>
<line x1="569.9" y1="350.7" x2="569.9" y2="339.8" stroke="#444" stroke-width="0.9"/>
<path d="M568.70,350.70 H571.10 L569.90,348.70 Z" fill="#444"/>
<line x1="616.3" y1="335" x2="616.3" y2="348.3" stroke="#444" stroke-width="0.9"/>
<path d="M615.10,335.00 H617.50 L616.30,337.00 Z" fill="#444"/>
<line x1="616.3" y1="362.7" x2="616.3" y2="348.3" stroke="#444" stroke-width="0.9"/>
<path d="M615.10,362.70 H617.50 L616.30,360.70 Z" fill="#444"/>
<line x1="663.8" y1="356" x2="663.8" y2="363.2" stroke="#444" stroke-width="0.9"/>
<path d="M662.60,356.00 H665.00 L663.80,358.00 Z" fill="#444"/>
<line x1="663.8" y1="367.5" x2="663.8" y2="363.2" stroke="#444" stroke-width="0.9"/>
<path d="M662.60,367.50 H665.00 L663.80,365.50 Z" fill="#444"/>
<line x1="499.1" y1="307.3" x2="499.1" y2="314.1" stroke="#444" stroke-width="0.9"/>
<path d="M497.90,307.30 H500.30 L499.10,309.30 Z" fill="#444"/>
<line x1="499.1" y1="322.3" x2="499.1" y2="314.1" stroke="#444" stroke-width="0.9"/>
<path d="M497.90,322.30 H500.30 L499.10,320.30 Z" fill="#444"/>
<line x1="507.1" y1="317.6" x2="507.1" y2="325.4" stroke="#444" stroke-width="0.9"/>
<path d="M505.90,317.60 H508.30 L507.10,319.60 Z" fill="#444"/>
<line x1="491.4" y1="327" x2="491.4" y2="332.7" stroke="#444" stroke-width="0.9"/>
<path d="M490.20,327.00 H492.60 L491.40,329.00 Z" fill="#444"/>
<line x1="522.9" y1="339.9" x2="522.9" y2="347.6" stroke="#5a4444" stroke-width="0.9"/>
<path d="M521.70,339.90 H524.10 L522.90,341.90 Z" fill="#5a4444"/>
<line x1="522.9" y1="356.5" x2="522.9" y2="347.6" stroke="#5a4444" stroke-width="0.9"/>
<path d="M521.70,356.50 H524.10 L522.90,354.50 Z" fill="#5a4444"/>
<line x1="538.5" y1="339.8" x2="538.5" y2="347.1" stroke="#5a4444" stroke-width="0.9"/>
<path d="M537.30,339.80 H539.70 L538.50,341.80 Z" fill="#5a4444"/>
<line x1="538.5" y1="357.9" x2="538.5" y2="347.1" stroke="#5a4444" stroke-width="0.9"/>
<path d="M537.30,357.90 H539.70 L538.50,355.90 Z" fill="#5a4444"/>
<line x1="554.4" y1="361" x2="554.4" y2="351.4" stroke="#5a4444" stroke-width="0.9"/>
<path d="M553.20,361.00 H555.60 L554.40,359.00 Z" fill="#5a4444"/>
<line x1="569.9" y1="366.3" x2="569.9" y2="357.2" stroke="#5a4444" stroke-width="0.9"/>
<path d="M568.70,366.30 H571.10 L569.90,364.30 Z" fill="#5a4444"/>
<line x1="616.3" y1="372.4" x2="616.3" y2="376.0" stroke="#5a4444" stroke-width="0.9"/>
<path d="M615.10,372.40 H617.50 L616.30,374.40 Z" fill="#5a4444"/>
<line x1="616.3" y1="379.6" x2="616.3" y2="376.0" stroke="#5a4444" stroke-width="0.9"/>
<path d="M615.10,379.60 H617.50 L616.30,377.60 Z" fill="#5a4444"/>
<line x1="483.9" y1="371" x2="483.9" y2="363.6" stroke="#5a4444" stroke-width="0.9"/>
<path d="M482.70,371.00 H485.10 L483.90,369.00 Z" fill="#5a4444"/>
<line x1="491.4" y1="349.2" x2="491.4" y2="340.7" stroke="#5a4444" stroke-width="0.9"/>
<path d="M490.20,349.20 H492.60 L491.40,347.20 Z" fill="#5a4444"/>
<line x1="499.1" y1="334.2" x2="499.1" y2="327.9" stroke="#5a4444" stroke-width="0.9"/>
<path d="M497.90,334.20 H500.30 L499.10,332.20 Z" fill="#5a4444"/>
<line x1="507.1" y1="342" x2="507.1" y2="333.9" stroke="#5a4444" stroke-width="0.9"/>
<path d="M505.90,342.00 H508.30 L507.10,340.00 Z" fill="#5a4444"/>
<path d="M475.8,373.9 C477.15,370.50 481.30,360.37 483.9,353.5 C486.50,346.63 488.87,339.27 491.4,332.7 C493.93,326.13 496.48,315.32 499.1,314.1 C501.72,312.88 503.13,325.20 507.1,325.4 C511.07,325.60 517.67,314.50 522.9,315.3 C528.13,316.10 533.25,325.98 538.5,330.2 C543.75,334.42 549.17,339.00 554.4,340.6 C559.63,342.20 559.58,338.52 569.9,339.8 C580.22,341.08 600.65,344.40 616.3,348.3 C631.95,352.20 655.88,360.72 663.8,363.2" fill="none" stroke="#3c3c3c" stroke-width="1.3"/>
<path d="M475.8,381.5 C477.15,378.52 481.30,370.40 483.9,363.6 C486.50,356.80 488.87,346.65 491.4,340.7 C493.93,334.75 496.48,329.03 499.1,327.9 C501.72,326.77 503.13,330.62 507.1,333.9 C511.07,337.18 517.67,345.40 522.9,347.6 C528.13,349.80 533.25,346.47 538.5,347.1 C543.75,347.73 549.17,349.72 554.4,351.4 C559.63,353.08 559.58,353.10 569.9,357.2 C580.22,361.30 600.65,372.07 616.3,376.0 C631.95,379.93 655.88,380.00 663.8,380.8" fill="none" stroke="#2f9ad8" stroke-width="1.6"/>
<ellipse cx="475.8" cy="373.9" rx="2.4" ry="2.8" fill="#b0b1b3" stroke="#3a3a3a" stroke-width="0.9"/>
<ellipse cx="483.9" cy="353.5" rx="2.4" ry="2.8" fill="#b0b1b3" stroke="#3a3a3a" stroke-width="0.9"/>
<ellipse cx="491.4" cy="332.7" rx="2.4" ry="2.8" fill="#b0b1b3" stroke="#3a3a3a" stroke-width="0.9"/>
<ellipse cx="499.1" cy="314.1" rx="2.4" ry="2.8" fill="#b0b1b3" stroke="#3a3a3a" stroke-width="0.9"/>
<ellipse cx="507.1" cy="325.4" rx="2.4" ry="2.8" fill="#b0b1b3" stroke="#3a3a3a" stroke-width="0.9"/>
<ellipse cx="522.9" cy="315.3" rx="2.4" ry="2.8" fill="#b0b1b3" stroke="#3a3a3a" stroke-width="0.9"/>
<ellipse cx="538.5" cy="330.2" rx="2.4" ry="2.8" fill="#b0b1b3" stroke="#3a3a3a" stroke-width="0.9"/>
<ellipse cx="554.4" cy="340.6" rx="2.4" ry="2.8" fill="#b0b1b3" stroke="#3a3a3a" stroke-width="0.9"/>
<ellipse cx="569.9" cy="339.8" rx="2.4" ry="2.8" fill="#b0b1b3" stroke="#3a3a3a" stroke-width="0.9"/>
<ellipse cx="616.3" cy="348.3" rx="2.4" ry="2.8" fill="#b0b1b3" stroke="#3a3a3a" stroke-width="0.9"/>
<ellipse cx="663.8" cy="363.2" rx="2.4" ry="2.8" fill="#b0b1b3" stroke="#3a3a3a" stroke-width="0.9"/>
<ellipse cx="475.8" cy="381.5" rx="2.5" ry="2.9" fill="#2a87c6" stroke="#3a2a2a" stroke-width="0.9"/>
<ellipse cx="483.9" cy="363.6" rx="2.5" ry="2.9" fill="#2a87c6" stroke="#3a2a2a" stroke-width="0.9"/>
<ellipse cx="491.4" cy="340.7" rx="2.5" ry="2.9" fill="#2a87c6" stroke="#3a2a2a" stroke-width="0.9"/>
<ellipse cx="499.1" cy="327.9" rx="2.5" ry="2.9" fill="#2a87c6" stroke="#3a2a2a" stroke-width="0.9"/>
<ellipse cx="507.1" cy="333.9" rx="2.5" ry="2.9" fill="#2a87c6" stroke="#3a2a2a" stroke-width="0.9"/>
<ellipse cx="522.9" cy="347.6" rx="2.5" ry="2.9" fill="#2a87c6" stroke="#3a2a2a" stroke-width="0.9"/>
<ellipse cx="538.5" cy="347.1" rx="2.5" ry="2.9" fill="#2a87c6" stroke="#3a2a2a" stroke-width="0.9"/>
<ellipse cx="554.4" cy="351.4" rx="2.5" ry="2.9" fill="#2a87c6" stroke="#3a2a2a" stroke-width="0.9"/>
<ellipse cx="569.9" cy="357.2" rx="2.5" ry="2.9" fill="#2a87c6" stroke="#3a2a2a" stroke-width="0.9"/>
<ellipse cx="616.3" cy="376.0" rx="2.5" ry="2.9" fill="#2a87c6" stroke="#3a2a2a" stroke-width="0.9"/>
<ellipse cx="663.8" cy="380.8" rx="2.5" ry="2.9" fill="#2a87c6" stroke="#3a2a2a" stroke-width="0.9"/>
<path d="M523.00,292.82 L523.00,288.62 M523.00,292.82 L527.27,291.52 M523.00,292.82 L525.65,296.22 M523.00,292.82 L520.35,296.22 M523.00,292.82 L518.73,291.52 " fill="none" stroke="#231f20" stroke-width="2.0" stroke-linecap="round"/>
<path d="M617.00,321.92 L617.00,317.72 M617.00,321.92 L621.27,320.62 M617.00,321.92 L619.65,325.32 M617.00,321.92 L614.35,325.32 M617.00,321.92 L612.73,320.62 " fill="none" stroke="#231f20" stroke-width="2.0" stroke-linecap="round"/>
<path d="M665.40,338.02 L665.40,333.82 M665.40,338.02 L669.67,336.72 M665.40,338.02 L668.05,341.42 M665.40,338.02 L662.75,341.42 M665.40,338.02 L661.12,336.72 " fill="none" stroke="#231f20" stroke-width="2.0" stroke-linecap="round"/>
<circle cx="235.1" cy="520.9" r="4.4" fill="#231f20" stroke="#231f20" stroke-width="1.5"/>
<circle cx="235.0" cy="537.4" r="4.4" fill="#e8303a" stroke="#231f20" stroke-width="1.5"/>
<circle cx="235.2" cy="554.4" r="4.4" fill="#d3d4d6" stroke="#9c9c9c" stroke-width="1.5"/>
<circle cx="236.3" cy="571.6" r="4.4" fill="#2f70be" stroke="#231f20" stroke-width="1.5"/>
<text x="245.8" y="526.4" font-size="14.5" text-anchor="start" font-weight="normal" fill="#231f20" textLength="156.6" lengthAdjust="spacingAndGlyphs">Naive mice before HFD</text>
<text x="247.4" y="541.5" font-size="14.5" text-anchor="start" font-weight="normal" fill="#231f20" textLength="210.4" lengthAdjust="spacingAndGlyphs">AgRP-ablated mice before HFD</text>
<text x="245.8" y="559.9" font-size="14.5" text-anchor="start" font-weight="normal" fill="#231f20" textLength="144.3" lengthAdjust="spacingAndGlyphs">Naive mice after HFD</text>
<text x="247.4" y="575.4" font-size="14.5" text-anchor="start" font-weight="normal" fill="#231f20" textLength="197.8" lengthAdjust="spacingAndGlyphs">AgRP-ablated mice after HFD</text>
</svg></body></html>
